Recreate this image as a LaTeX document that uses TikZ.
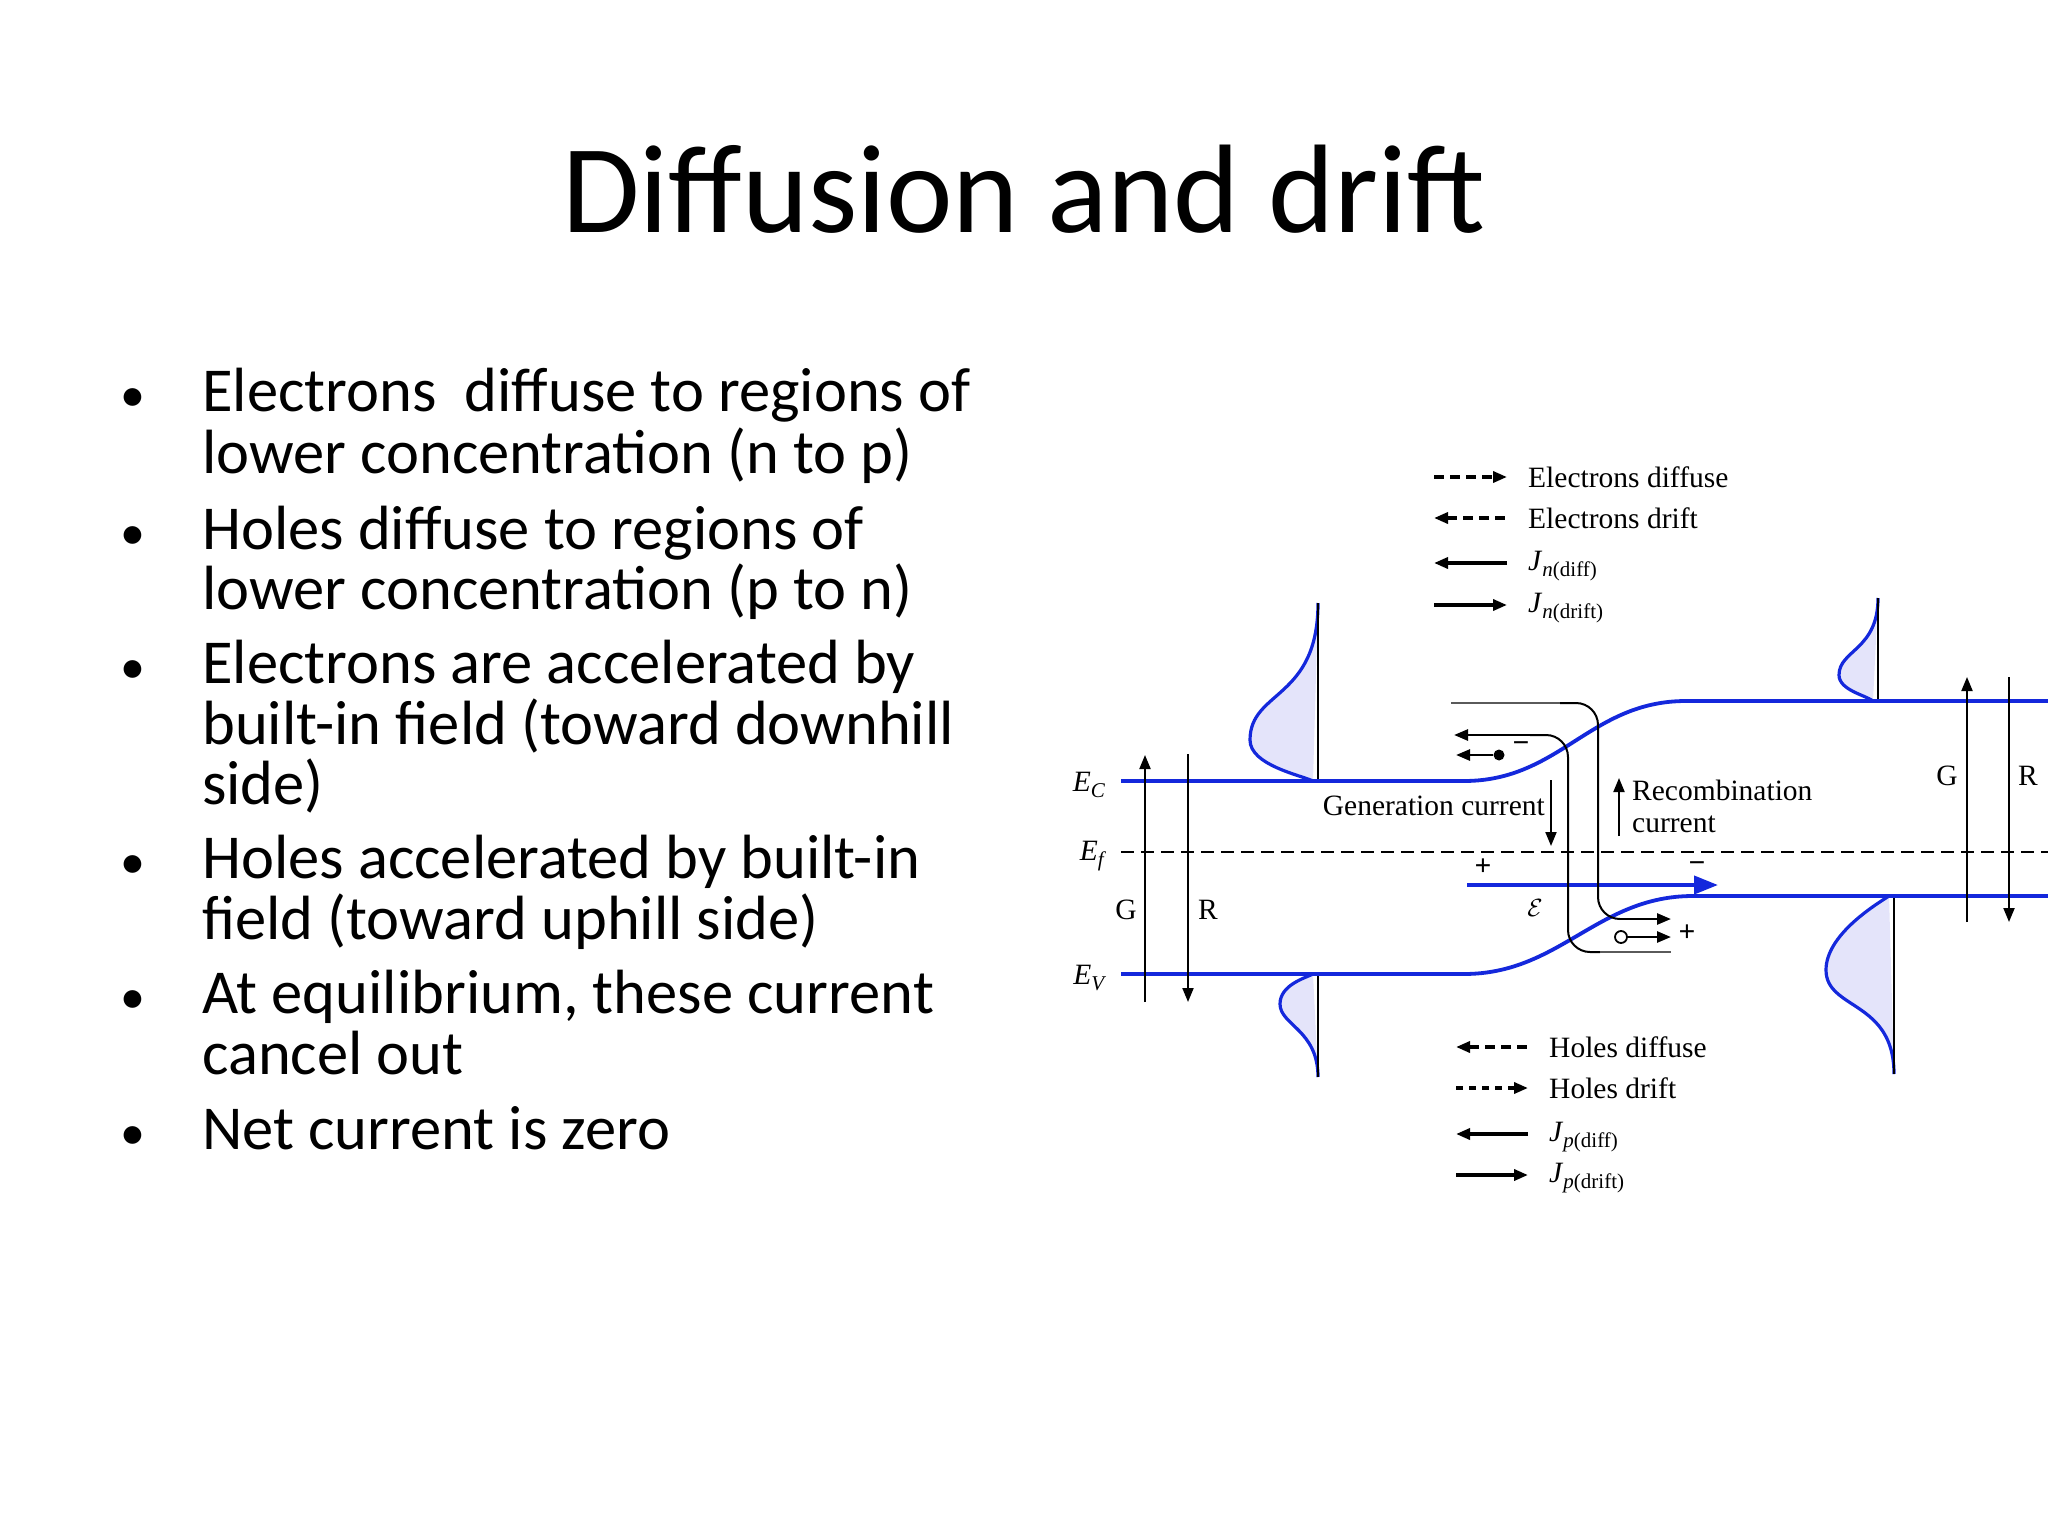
\documentclass[tikz,border=0pt]{standalone}
\usepackage{fontspec}
\setmainfont{Carlito}
\newfontfamily\tms{Liberation Serif}
\usetikzlibrary{arrows.meta}
\definecolor{band}{RGB}{20,40,220}
\definecolor{lav}{RGB}{228,228,250}
\definecolor{grayln}{RGB}{90,90,90}
\newcommand{\sbs}[1]{\textsubscript{\fontsize{21}{22}\selectfont #1}}
\tikzset{
  bodytxt/.style={anchor=base west,inner sep=0pt,font=\fontsize{62.5}{66}\selectfont},
  bul/.style={anchor=base,inner sep=0pt,font=\fontsize{50}{60}\selectfont},
  dtxt/.style={inner sep=0pt,font=\tms\fontsize{29.5}{32}\selectfont},
  itxt/.style={inner sep=0pt,font=\tms\itshape\fontsize{29.5}{32}\selectfont},
  bandln/.style={draw=band,line width=3.8pt},
  thin/.style={draw=black,line width=2pt},
  tip/.style={-{Triangle[length=14pt,width=11pt]}},
  rtip/.style={{Triangle[length=14pt,width=11pt]}-},
  leg/.style={line width=3.4pt},
  dist/.style={draw=band,line width=3.2pt,fill=lav},
}
\begin{document}
\begin{tikzpicture}[x=1pt,y=-1pt]
\useasboundingbox (0,0) rectangle (2048,1536);
\fill[white] (0,0) rectangle (2048,1536);
\node[anchor=base,inner sep=0pt,font=\fontsize{126}{130}\selectfont] (title) at (1024,232) {Diffusion and drift};
% bullets
\foreach \y/\n in {411/b1,549/b2,683/b3,878/b4,1013/b5,1149/b6}
  \node[bul] (\n) at (133,\y) {•};
\node[bodytxt] (t1) at (202,411) {Electrons\ \ diffuse to regions of};
\node[bodytxt] (t1b) at (202,473) {lower concentration (n to p)};
\node[bodytxt] (t2) at (202,549) {Holes diffuse to regions of};
\node[bodytxt] (t2b) at (202,609) {lower concentration (p to n)};
\node[bodytxt] (t3) at (202,683) {Electrons are accelerated by};
\node[bodytxt] (t3b) at (202,744) {built-in field (toward downhill};
\node[bodytxt] (t3c) at (202,804) {side)};
\node[bodytxt] (t4) at (202,878) {Holes accelerated by built-in};
\node[bodytxt] (t4b) at (202,939) {field (toward uphill side)};
\node[bodytxt] (t5) at (202,1013) {At equilibrium, these current};
\node[bodytxt] (t5b) at (202,1074) {cancel out};
\node[bodytxt] (t6) at (202,1149) {Net current is zero};

% distributions
\draw[dist] (1318,603) .. controls (1318,700) and (1250,690) .. (1250,740) .. controls (1250,765) and (1300,775) .. (1313,781);
\draw[thin] (1318,603) -- (1318,781);
\draw[dist] (1318,1077) .. controls (1318,1030) and (1280,1025) .. (1280,1004) .. controls (1280,985) and (1305,978) .. (1313,974);
\draw[thin] (1318,1077) -- (1318,974);
\draw[dist] (1878,598) .. controls (1878,650) and (1839,650) .. (1839,675) .. controls (1839,690) and (1865,695) .. (1873,701);
\draw[thin] (1878,598) -- (1878,701);
\draw[dist] (1894,1074) .. controls (1894,1000) and (1826,1010) .. (1826,970) .. controls (1826,935) and (1875,905) .. (1889,896);
\draw[thin] (1894,1074) -- (1894,896);

% bands
\draw[bandln] (1121,781) -- (1464,781) .. controls (1560,781) and (1590,701) .. (1686,701) -- (2048,701);
\draw[bandln] (1121,974) -- (1464,974) .. controls (1560,974) and (1597,896) .. (1693,896) -- (2048,896);
\draw[black,line width=2.6pt,dash pattern=on 13pt off 7pt] (1121,852) -- (2048,852);
\node[itxt] (ec) at (1089,785) {E\sbs{C}};
\node[itxt] (ef) at (1092,856) {E\sbs{f}};
\node[itxt] (ev) at (1089,978) {E\sbs{V}};

% G R arrows
\coordinate (lg1) at (1145,1002); \coordinate (lg2) at (1145,755);
\coordinate (lr1) at (1188,754); \coordinate (lr2) at (1188,1002);
\draw[thin,tip] (lg1) -- (lg2);
\draw[thin,tip] (lr1) -- (lr2);
\node[dtxt] (lG) at (1126,910) {G};
\node[dtxt] (lR) at (1208,910) {R};
\coordinate (rg1) at (1967,922); \coordinate (rg2) at (1967,677);
\coordinate (rr1) at (2009,677); \coordinate (rr2) at (2009,922);
\draw[thin,tip] (rg1) -- (rg2);
\draw[thin,tip] (rr1) -- (rr2);
\node[dtxt] (rG) at (1947,776) {G};
\node[dtxt] (rR) at (2028,776) {R};

% field
\coordinate (f1) at (1467,885); \coordinate (f2) at (1718,885);
\draw[band,line width=4pt,-{Triangle[length=24pt,width=18pt]}] (f1) -- (f2);
\node[dtxt] (fp) at (1483,867) {\textbf{+}};
\node[dtxt] (fm) at (1697,867) {\textbf{−}};
\node[dtxt] (fe) at (1535,908) {$\mathcal{E}$};

% current labels
\node[dtxt,anchor=east] (gen) at (1545,806) {Generation current};
\draw[thin,tip] (1551,780) -- (1551,846);
\draw[thin,tip] (1619,836) -- (1619,778);
\node[dtxt,anchor=west] (rec1) at (1632,790) {Recombination};
\node[dtxt,anchor=west] (rec2) at (1632,824) {current};

% carrier paths
\coordinate (pa0) at (1451,703); \coordinate (pa1) at (1671,919);
\draw[grayln,line width=2.6pt] (pa0) -- (1560,703);
\draw[thin,rounded corners=22pt] (1560,703) -- (1598,703) -- (1598,919) -- (1620,919);
\draw[thin,line width=2.6pt,tip] (1620,919) -- (pa1);
\coordinate (pb0) at (1454,735); \coordinate (pb1) at (1671,952);
\draw[thin,line width=2.6pt,tip] (1530,735) -- (pb0);
\draw[thin,rounded corners=22pt] (1530,735) -- (1568,735) -- (1568,952) -- (1600,952);
\draw[grayln,line width=2.6pt] (1600,952) -- (pb1);
% electron and hole
\node[circle,fill=black,inner sep=0pt,minimum size=11pt] (el) at (1499,755) {};
\draw[thin,line width=2.6pt,tip] (el) -- (1456,755);
\node[dtxt] (elm) at (1521,747) {\textbf{−}};
\node[circle,draw=black,line width=1.8pt,inner sep=0pt,minimum size=12pt] (ho) at (1621,937) {};
\draw[thin,line width=2.6pt,tip] (ho) -- (1671,937);
\node[dtxt] (hop) at (1687,933) {\textbf{+}};

% top legend
\draw[leg,dash pattern=on 10pt off 6pt,tip] (1434,477) -- (1507,477);
\draw[leg,dash pattern=on 10pt off 6pt,rtip] (1434,518) -- (1507,518);
\draw[leg,tip] (1507,563) -- (1434,563);
\draw[leg,tip] (1434,605) -- (1507,605);
\node[dtxt,anchor=west] (l1) at (1528,477) {Electrons diffuse};
\node[dtxt,anchor=west] (l2) at (1528,518) {Electrons drift};
\node[dtxt,anchor=west] (l3) at (1528,566) {\textit{J}\sbs{\textit{n}(diff)}};
\node[dtxt,anchor=west] (l4) at (1528,608) {\textit{J}\sbs{\textit{n}(drift)}};
% bottom legend
\draw[leg,dash pattern=on 10pt off 6pt,rtip] (1456,1047) -- (1528,1047);
\draw[leg,dash pattern=on 7pt off 6pt,tip] (1456,1088) -- (1528,1088);
\draw[leg,tip] (1528,1134) -- (1456,1134);
\draw[leg,tip] (1456,1175) -- (1528,1175);
\node[dtxt,anchor=west] (m1) at (1549,1047) {Holes diffuse};
\node[dtxt,anchor=west] (m2) at (1549,1088) {Holes drift};
\node[dtxt,anchor=west] (m3) at (1549,1137) {\textit{J}\sbs{\textit{p}(diff)}};
\node[dtxt,anchor=west] (m4) at (1549,1178) {\textit{J}\sbs{\textit{p}(drift)}};
\end{tikzpicture}
\end{document}
